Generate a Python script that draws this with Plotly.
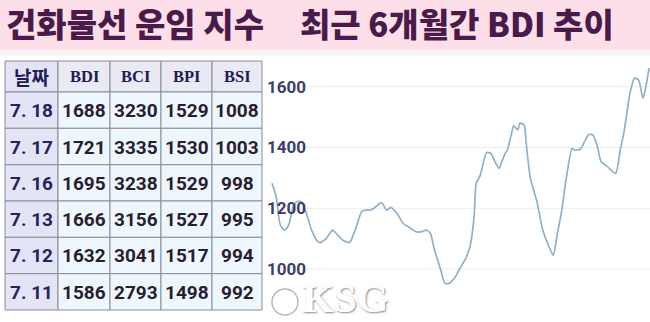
import plotly.graph_objects as go
import pandas as pd

# ---------------- data ----------------
title_left = "건화물선 운임 지수"
title_right = "최근 6개월간 BDI 추이"

table_header = ["날짜", "BDI", "BCI", "BPI", "BSI"]
table_dates = ["7. 18", "7. 17", "7. 16", "7. 13", "7. 12", "7. 11"]
bdi = [1688, 1721, 1695, 1666, 1632, 1586]
bci = [3230, 3335, 3238, 3156, 3041, 2793]
bpi = [1529, 1530, 1529, 1527, 1517, 1498]
bsi = [1008, 1003, 998, 995, 994, 992]

trend_start = "2018-01-18"
trend_days = [0, 2, 4, 6, 8, 10, 12, 14, 16, 19, 22, 23, 26, 29, 30, 34, 37, 38, 41, 43,
              45, 47, 49, 52, 53, 55, 57, 60, 63, 66, 69, 72, 74, 76, 78, 81, 83, 85, 88, 90,
              93, 95, 97, 98, 100, 101, 103, 105, 107, 109, 110, 112, 113, 115, 116, 118, 119, 121, 122, 124,
              127, 130, 133, 135, 137, 139, 141, 144, 145, 148, 150, 152, 154, 156, 158, 161, 165, 167, 169, 172,
              174, 176, 178, 179, 181]
trend_bdi = [1282, 1238, 1145, 1128, 1145, 1201, 1222, 1222, 1194, 1128, 1090, 1087, 1101, 1128, 1123, 1095, 1087, 1095, 1150, 1189,
             1194, 1194, 1200, 1218, 1216, 1194, 1203, 1183, 1150, 1137, 1123, 1123, 1128, 1118, 1063, 997, 953, 953, 975, 1000,
             1035, 1073, 1172, 1282, 1309, 1337, 1383, 1381, 1353, 1331, 1348, 1381, 1392, 1447, 1471, 1458, 1480, 1474, 1414, 1299,
             1227, 1128, 1073, 1046, 1118, 1189, 1287, 1397, 1392, 1394, 1419, 1443, 1441, 1408, 1353, 1337, 1315, 1386, 1452, 1584,
             1628, 1622, 1562, 1584, 1661]
y_ticks = [1000, 1200, 1400, 1600]
watermark = "KSG"

# ---------------- layout constants ----------------
W, H = 650, 322
col_edges = [5, 58, 110, 161, 212, 262]
row_edges = [61, 92, 128.3, 164.7, 201, 237.3, 273.7, 310]
GRID = "#8c8c96"


def px(x):
    return x / W


def py(y):
    return 1 - y / H


base = pd.Timestamp(trend_start)
trend_dates = base + pd.to_timedelta(trend_days, unit="D")
x_range = [base - pd.Timedelta(days=3.36), base + pd.Timedelta(days=181.44)]

fig = go.Figure()
fig.add_trace(go.Scatter(
    x=trend_dates, y=trend_bdi, mode="lines",
    line=dict(color="#8fb1c9", width=1.7, shape="spline", smoothing=0.6),
    hoverinfo="skip", showlegend=False,
))

shapes = [
    dict(type="rect", xref="paper", yref="paper", x0=0, x1=1, y0=py(50), y1=1,
         fillcolor="#fcdfe8", line=dict(width=0), layer="below"),
    dict(type="rect", xref="paper", yref="paper", x0=0, x1=1, y0=py(56), y1=py(50),
         fillcolor="#f8f4f5", line=dict(width=0), layer="below"),
]
annotations = []

# ---- table ----
rows = [[d, b1, b2, b3, b4] for d, b1, b2, b3, b4 in zip(table_dates, bdi, bci, bpi, bsi)]
all_rows = [table_header] + rows
for r, row in enumerate(all_rows):
    y0, y1 = row_edges[r], row_edges[r + 1]
    for c, val in enumerate(row):
        x0, x1 = col_edges[c], col_edges[c + 1]
        if r == 0:
            fill = "#e3e3f5" if c == 0 else "#eaeaf4"
        else:
            fill = "#e4e4f7" if c == 0 else "#eef7fd"
        shapes.append(dict(type="rect", xref="paper", yref="paper",
                           x0=px(x0), x1=px(x1), y0=py(y1), y1=py(y0),
                           fillcolor=fill, line=dict(color=GRID, width=1), layer="below"))
        if r == 0:
            fam = "Noto Sans CJK KR" if c == 0 else "Liberation Serif, Times New Roman, serif"
            size = 19 if c == 0 else 16.5
            color = "#231d55"
        else:
            fam = "Roboto, sans-serif"
            size = 19
            color = "#28235c" if c == 0 else "#2a1d30"
        annotations.append(dict(xref="paper", yref="paper", x=px((x0 + x1) / 2), y=py((y0 + y1) / 2 + 0.5),
                                xanchor="center", yanchor="middle", text=f"<b>{val}</b>",
                                showarrow=False, font=dict(family=fam, size=size, color=color)))

# ---- chart gridlines & ticks ----
for t in y_ticks:
    shapes.append(dict(type="line", xref="paper", yref="y", x0=px(303), x1=1, y0=t, y1=t,
                       line=dict(color="#ececee", width=1), layer="below"))
    annotations.append(dict(xref="paper", yref="y", x=px(265), y=t, xanchor="left", yanchor="middle",
                            text=f"<b>{t}</b>", showarrow=False,
                            font=dict(family="Roboto, sans-serif", size=17, color="#3c3e6c")))

# ---- titles ----
for txt, x in [(title_left, 4), (title_right, 298)]:
    annotations.append(dict(xref="paper", yref="paper", x=px(x), y=py(23), xanchor="left", yanchor="middle",
                            text=txt, showarrow=False,
                            font=dict(family="Noto Sans CJK KR", size=33, color="#4a1b4a", weight=900)))

# ---- watermark ----
annotations.append(dict(xref="paper", yref="paper", x=px(301), y=0, xanchor="left", yanchor="bottom",
                        text=f"<b>{watermark}</b>", showarrow=False, borderpad=0,
                        font=dict(family="Liberation Serif, serif", size=41, color="#ffffff",
                                  shadow="1px 1px 2px #8a8a8a")))
shapes.append(dict(type="circle", xref="paper", yref="paper", x0=px(272), x1=px(298), y0=py(315), y1=py(289),
                   fillcolor="rgba(255,255,255,0.9)", line=dict(color="#b8b8b8", width=1.5)))

fig.update_layout(
    width=W, height=H,
    margin=dict(l=0, r=0, t=0, b=0),
    paper_bgcolor="#ffffff", plot_bgcolor="rgba(0,0,0,0)",
    xaxis=dict(domain=[px(265), 1], range=x_range, visible=False),
    yaxis=dict(domain=[0, 1], range=[826, 1885], visible=False),
    shapes=shapes, annotations=annotations,
    showlegend=False,
)

fig.write_html("out.html")
